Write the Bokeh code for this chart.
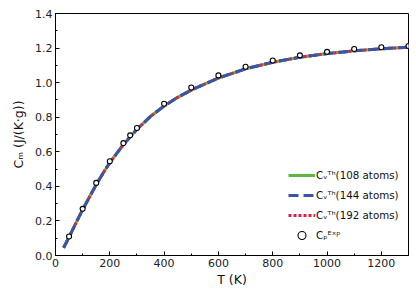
from bokeh.plotting import figure
from bokeh.models import Range1d, FixedTicker, NumeralTickFormatter, Legend, LegendItem
from bokeh.embed import file_html
from bokeh.resources import INLINE

# Theoretical curves (T in K, Cv in J/(K g))
T_theory = [30, 50, 75, 100, 125, 150, 175, 200, 250, 300, 350, 400, 450, 500,
            600, 700, 800, 900, 1000, 1100, 1200, 1300]
cv_108 = [0.045, 0.107, 0.187, 0.265, 0.338, 0.41, 0.476, 0.537, 0.642, 0.73,
          0.805, 0.865, 0.915, 0.957, 1.027, 1.080, 1.118, 1.147, 1.168, 1.184, 1.196, 1.205]
cv_144 = [0.045, 0.107, 0.187, 0.265, 0.338, 0.41, 0.476, 0.537, 0.642, 0.73,
          0.805, 0.865, 0.915, 0.957, 1.027, 1.080, 1.118, 1.147, 1.168, 1.184, 1.196, 1.205]
cv_192 = [0.045, 0.107, 0.187, 0.265, 0.338, 0.41, 0.476, 0.537, 0.642, 0.73,
          0.805, 0.865, 0.915, 0.957, 1.027, 1.080, 1.118, 1.147, 1.168, 1.184, 1.196, 1.205]

# Experimental Cp
T_exp = [50, 100, 150, 200, 250, 275, 300, 400, 500, 600, 700, 800, 900, 1000, 1100, 1200, 1300]
cp_exp = [0.11, 0.27, 0.42, 0.545, 0.65, 0.695, 0.738, 0.878, 0.972, 1.042, 1.092, 1.128,
          1.158, 1.178, 1.195, 1.205, 1.212]

x_ticks = [0, 200, 400, 600, 800, 1000, 1200]
y_ticks = [0.0, 0.2, 0.4, 0.6, 0.8, 1.0, 1.2, 1.4]

labels = ["C\u1d65\u1d40\u02b0(108 atoms)", "C\u1d65\u1d40\u02b0(144 atoms)",
          "C\u1d65\u1d40\u02b0(192 atoms)", "C\u209a\u1d31\u02e3\u1d56"]

p = figure(width=416, height=294, output_backend="svg", toolbar_location=None,
           x_range=Range1d(0, 1300), y_range=Range1d(0, 1.4),
           min_border_left=55, min_border_right=8, min_border_top=13, min_border_bottom=39)

p.xgrid.visible = False
p.ygrid.visible = False
p.outline_line_color = "black"
p.outline_line_width = 1

r1 = p.line(T_theory, cv_108, line_color="#5cb83f", line_width=3)
r3 = p.line(T_theory, cv_192, line_color="#de1f4d", line_width=3, line_dash="3 2")
r2 = p.line(T_theory, cv_144, line_color="#3a55a8", line_width=3, line_dash="10 5")
r4 = p.scatter(T_exp, cp_exp, size=5, fill_color="white", line_color="black", line_width=1.1)

for ax in (p.xaxis[0], p.yaxis[0]):
    ax.major_tick_in = 4
    ax.major_tick_out = 0
    ax.minor_tick_in = 2
    ax.minor_tick_out = 0
    ax.axis_line_color = "black"
    ax.major_tick_line_color = "black"
    ax.minor_tick_line_color = "black"
    ax.major_label_text_font = "DejaVu Sans"
    ax.major_label_text_font_size = "11px"
    ax.major_label_text_color = "#222222"
    ax.axis_label_text_font = "DejaVu Sans"
    ax.axis_label_text_font_size = "12.5px"
    ax.axis_label_text_font_style = "normal"
    ax.axis_label_text_color = "#111111"

p.xaxis.ticker = FixedTicker(ticks=x_ticks, minor_ticks=list(range(0, 1301, 100)))
p.yaxis.ticker = FixedTicker(ticks=y_ticks, minor_ticks=[i / 10 for i in range(15)])
p.yaxis.formatter = NumeralTickFormatter(format="0.0")
p.xaxis.major_label_standoff = 3
p.yaxis.major_label_standoff = 3
p.xaxis.axis_label = "T (K)"
p.yaxis.axis_label = "C\u2098 (J/(K\u00b7g))"
p.xaxis.axis_label_standoff = 2
p.yaxis.axis_label_standoff = 6

legend = Legend(items=[LegendItem(label=labels[0], renderers=[r1]),
                       LegendItem(label=labels[1], renderers=[r2]),
                       LegendItem(label=labels[2], renderers=[r3]),
                       LegendItem(label=labels[3], renderers=[r4])],
                location=(233, 10), background_fill_alpha=0, border_line_color=None,
                glyph_width=27, glyph_height=20, label_height=20, spacing=0, padding=0,
                margin=0, label_standoff=1, label_text_font="DejaVu Sans",
                label_text_font_size="10.3px", label_text_color="#111111")
p.add_layout(legend, "center")

open("out.html", "w").write(file_html(p, INLINE))
